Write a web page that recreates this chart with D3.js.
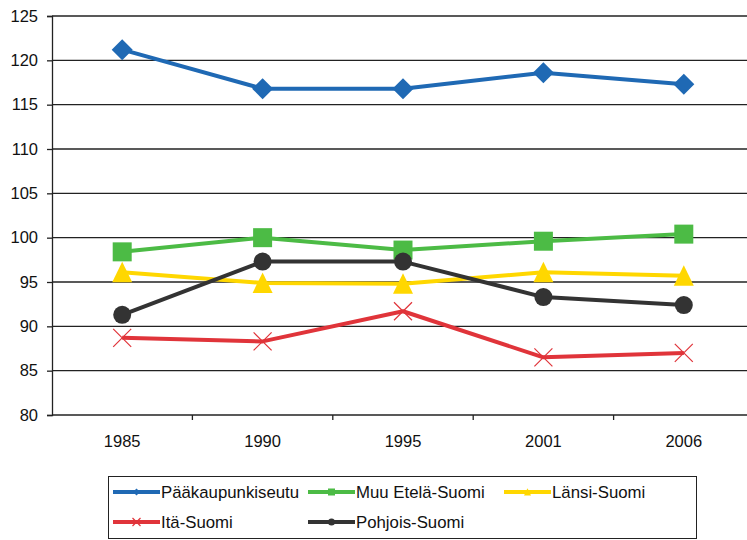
<!DOCTYPE html>
<html><head><meta charset="utf-8">
<script src="https://cdn.jsdelivr.net/npm/d3@7"></script>
<style>body{margin:0;background:#fff}svg{display:block;font-family:"Liberation Sans",Arial,sans-serif}</style>
</head><body><svg id="c" width="747" height="540"></svg>
<script>
const years = ["1985","1990","1995","2001","2006"];
const yTicks = [80,85,90,95,100,105,110,115,120,125];
const paakaupunkiseutu = [121.2,116.8,116.8,118.6,117.3];
const muuEtelaSuomi = [98.4,100.0,98.6,99.6,100.4];
const lansiSuomi = [96.1,94.9,94.8,96.1,95.7];
const itaSuomi = [88.7,88.3,91.7,86.5,87.0];
const pohjoisSuomi = [91.3,97.3,97.3,93.3,92.4];
const seriesNames = ["Pääkaupunkiseutu","Muu Etelä-Suomi","Länsi-Suomi","Itä-Suomi","Pohjois-Suomi"];
const seriesColors = ["#1f69b4","#4cbb45","#ffd700","#e0343a","#333333"];
const seriesMarkers = ["diamond","square","triangle","x","circle"];

(function(){
const series = [paakaupunkiseutu,muuEtelaSuomi,lansiSuomi,itaSuomi,pohjoisSuomi].map((v,i)=>({name:seriesNames[i],values:v,color:seriesColors[i],marker:seriesMarkers[i]}));

const svg = d3.select("#c");
const pL=52, pR=754, pT=16, pB=415;
const x = d3.scaleBand().domain(years).range([pL,pR]);
const y = d3.scaleLinear().domain([80,125]).range([pB,pT]);
const FONT = "Liberation Sans, Arial, sans-serif";

svg.append("g").selectAll("line").data(yTicks.filter(t=>t>80)).join("line")
  .attr("x1",pL).attr("x2",747).attr("y1",d=>y(d)).attr("y2",d=>y(d))
  .attr("stroke","#222").attr("stroke-width",1.3);

const ya = svg.append("g").attr("transform",`translate(${pL},0)`)
  .call(d3.axisLeft(y).tickValues(yTicks).tickSize(5).tickPadding(9));
ya.select(".domain").attr("stroke","#222").attr("stroke-width",1.3);
ya.selectAll(".tick line").attr("stroke","#222").attr("stroke-width",1.3);
ya.selectAll("text").attr("font-size",16.5).attr("fill","#111").attr("font-family",FONT);

const xa = svg.append("g").attr("transform",`translate(0,${pB})`)
  .call(d3.axisBottom(x).tickSize(0).tickPadding(20));
xa.select(".domain").remove();
xa.selectAll("text").attr("font-size",16.5).attr("fill","#111").attr("font-family",FONT);
svg.append("line").attr("x1",pL).attr("x2",747).attr("y1",pB).attr("y2",pB).attr("stroke","#222").attr("stroke-width",1.3);
svg.append("g").selectAll("line").data(years.slice(1)).join("line")
  .attr("x1",d=>x(d)).attr("x2",d=>x(d)).attr("y1",pB).attr("y2",pB+5)
  .attr("stroke","#222").attr("stroke-width",1.3);

function drawMarker(g, type, color, s){
  if(type==="diamond") g.append("path").attr("d",`M0,${-s}L${s},0L0,${s}L${-s},0Z`).attr("fill",color);
  else if(type==="square") g.append("rect").attr("x",-s).attr("y",-s).attr("width",s*2).attr("height",s*2).attr("fill",color);
  else if(type==="triangle") g.append("path").attr("d",`M0,${-s*1.05}L${s},${s}L${-s},${s}Z`).attr("fill",color);
  else if(type==="circle") g.append("circle").attr("r",s).attr("fill",color);
  else if(type==="x") g.append("path").attr("d",`M${-s},${-s}L${s},${s}M${-s},${s}L${s},${-s}`).attr("stroke",color).attr("stroke-width",1.2).attr("fill","none");
}
const mSize = {diamond:10.5,square:9.5,triangle:10,circle:9,x:9};

const line = d3.line().x((d,i)=>x(years[i])+x.bandwidth()/2).y(d=>y(d));
series.forEach(s=>{
  svg.append("path").datum(s.values).attr("d",line).attr("fill","none")
    .attr("stroke",s.color).attr("stroke-width",4).attr("stroke-linejoin","round");
  s.values.forEach((v,i)=>{
    const g = svg.append("g").attr("transform",`translate(${x(years[i])+x.bandwidth()/2},${y(v)})`);
    drawMarker(g,s.marker,s.color,mSize[s.marker]);
  });
});

svg.append("rect").attr("x",108.5).attr("y",476.5).attr("width",588).attr("height",62)
  .attr("fill","#fff").attr("stroke","#222").attr("stroke-width",1);
const legPos = [[113,492],[308,492],[504,492],[113,522],[308,522]];
series.forEach((s,i)=>{
  const [lx,ly] = legPos[i];
  svg.append("line").attr("x1",lx).attr("x2",lx+47).attr("y1",ly).attr("y2",ly).attr("stroke",s.color).attr("stroke-width",4);
  const g = svg.append("g").attr("transform",`translate(${lx+23.5},${ly})`);
  drawMarker(g,s.marker,s.color,s.marker==="x"?4:3.5);
  svg.append("text").attr("x",lx+48).attr("y",ly).attr("dy","0.35em").attr("font-size",16.8).attr("fill","#111").attr("font-family",FONT).text(s.name);
});
})();
</script></body></html>
